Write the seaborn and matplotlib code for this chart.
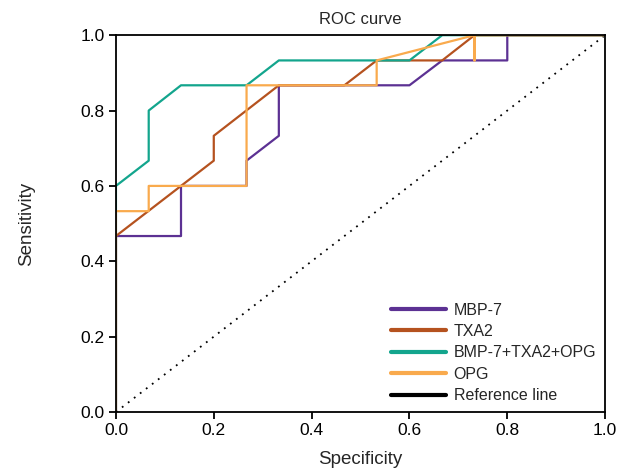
import numpy as np
import pandas as pd
import matplotlib
matplotlib.use('Agg')
import matplotlib.pyplot as plt
from matplotlib.lines import Line2D
import seaborn as sns

# ROC points (15 positives / 15 negatives)
mbp7_x = [0, 0, 0.133, 0.133, 0.267, 0.267, 0.333, 0.333, 0.6, 0.667, 0.8, 0.8, 1.0]
mbp7_y = [0, 0.467, 0.467, 0.6, 0.6, 0.667, 0.733, 0.867, 0.867, 0.933, 0.933, 1.0, 1.0]

txa2_x = [0, 0, 0.2, 0.2, 0.333, 0.467, 0.533, 0.667, 0.733, 1.0]
txa2_y = [0, 0.467, 0.667, 0.733, 0.867, 0.867, 0.933, 0.933, 1.0, 1.0]

combo_x = [0, 0, 0.067, 0.067, 0.133, 0.267, 0.333, 0.6, 0.667, 1.0]
combo_y = [0, 0.6, 0.667, 0.8, 0.867, 0.867, 0.933, 0.933, 1.0, 1.0]

opg_x = [0, 0, 0.067, 0.067, 0.267, 0.267, 0.533, 0.533, 0.733, 0.733, 0.733, 1.0]
opg_y = [0, 0.533, 0.533, 0.6, 0.6, 0.867, 0.867, 0.933, 1.0, 0.933, 1.0, 1.0]

ref_x = [0, 1]
ref_y = [0, 1]

labels = ['MBP-7', 'TXA2', 'BMP-7+TXA2+OPG', 'OPG']
colors = ['#5c3193', '#b5521f', '#13a58d', '#f9aa4d']

frames = []
for name, xs, ys in zip(labels, [mbp7_x, txa2_x, combo_x, opg_x],
                        [mbp7_y, txa2_y, combo_y, opg_y]):
    frames.append(pd.DataFrame({'fpr': xs, 'tpr': ys, 'marker': name}))
df = pd.concat(frames, ignore_index=True)

sns.set_style('ticks')
plt.rcParams['font.family'] = ['Liberation Sans', 'DejaVu Sans']

fig = plt.figure(figsize=(6.2, 4.69), dpi=100)
ax = fig.add_axes([0.187, 0.1215, 0.789, 0.8035])

ax.plot(ref_x, ref_y, color='black', linestyle=(0, (1, 3.2)), linewidth=1.3)
sns.lineplot(data=df, x='fpr', y='tpr', hue='marker', hue_order=labels,
             palette=colors, sort=False, estimator=None, linewidth=1.6,
             legend=False, ax=ax)

ticks = np.arange(0, 1.01, 0.2)
ax.set_xlim(0, 1)
ax.set_ylim(0, 1)
ax.set_xticks(ticks)
ax.set_yticks(ticks)
ax.set_xticklabels([f'{v:.1f}' for v in ticks])
ax.set_yticklabels([f'{v:.1f}' for v in ticks])
ax.tick_params(direction='out', length=5, width=1.3, labelsize=12.5,
               colors='black', pad=3)
for s in ax.spines.values():
    s.set_linewidth(1.3)
    s.set_color('black')
    s.set_visible(True)

ax.set_xlabel('Specificity', fontsize=13.5, labelpad=9)
ax.set_ylabel('Sensitivity', fontsize=13.5, labelpad=33)
ax.set_title('ROC curve', fontsize=12, pad=8)

handles = [Line2D([0], [0], color=c, linewidth=3) for c in colors]
handles.append(Line2D([0], [0], color='black', linewidth=3))
ax.legend(handles, labels + ['Reference line'], loc='lower right',
          frameon=False, fontsize=11.5, handlelength=3.4, labelspacing=0.4,
          handletextpad=0.5, borderaxespad=0.15)

fig.savefig('out.png', dpi=100, facecolor='white')
